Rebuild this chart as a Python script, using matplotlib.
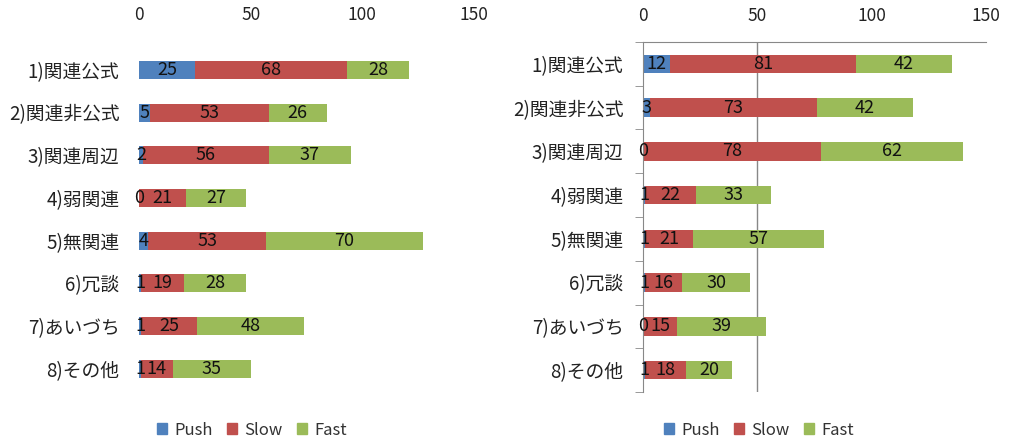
import matplotlib
matplotlib.use("Agg")
import matplotlib.pyplot as plt
import numpy as np
from matplotlib.patches import Patch

plt.rcParams['font.family'] = ['Noto Sans CJK JP', 'DejaVu Sans']

categories = ["1)関連公式", "2)関連非公式", "3)関連周辺", "4)弱関連",
              "5)無関連", "6)冗談", "7)あいづち", "8)その他"]
series_names = ["Push", "Slow", "Fast"]
colors = ["#4F81BD", "#C0504D", "#9BBB59"]

left_push = [25, 5, 2, 0, 4, 1, 1, 1]
left_slow = [68, 53, 56, 21, 53, 19, 25, 14]
left_fast = [28, 26, 37, 27, 70, 28, 48, 35]

right_push = [12, 3, 0, 1, 1, 1, 0, 1]
right_slow = [81, 73, 78, 22, 21, 16, 15, 18]
right_fast = [42, 42, 62, 33, 57, 30, 39, 20]

xticks = [0, 50, 100, 150]

W, H = 1019, 440
fig = plt.figure(figsize=(W / 100, H / 100), dpi=100)


def draw(ax, push, slow, fast, show_axes, label_pad):
    y = np.arange(len(categories))
    left = np.zeros(len(categories))
    for vals, c in zip([push, slow, fast], colors):
        bars = ax.barh(y, vals, left=left, height=0.42, color=c)
        ax.bar_label(bars, labels=[str(v) for v in vals], label_type='center',
                     fontsize=13, color='#111111')
        left = left + np.array(vals)
    ax.set_xlim(0, 150)
    ax.set_ylim(len(categories) - 0.5, -0.5)
    ax.set_yticks(y)
    ax.set_yticklabels(categories, fontsize=13.5, color='#222222')
    ax.xaxis.tick_top()
    ax.set_xticks(xticks)
    ax.set_xticklabels([str(t) for t in xticks], fontsize=12.5, color='#222222')
    ax.tick_params(axis='x', length=0, pad=label_pad)
    ax.tick_params(axis='y', which='major', length=0, pad=14)
    for s in ['right', 'bottom']:
        ax.spines[s].set_visible(False)
    if show_axes:
        ax.spines['top'].set_color('#888888')
        ax.spines['left'].set_color('#888888')
        ax.set_yticks(np.arange(-0.5, len(categories)), minor=True)
        ax.tick_params(axis='y', which='minor', length=6, color='#888888')
        ax.axvline(50, color='#888888', lw=1, zorder=0)
    else:
        ax.spines['top'].set_visible(False)
        ax.spines['left'].set_visible(False)


ax1 = fig.add_axes([139 / W, 1 - 390 / H, 335 / W, (390 - 48.6) / H])
draw(ax1, left_push, left_slow, left_fast, False, 18)

ax2 = fig.add_axes([643 / W, 1 - 392 / H, 343 / W, (392 - 42) / H])
draw(ax2, right_push, right_slow, right_fast, True, 12)

handles = [Patch(color=c, label=n) for c, n in zip(colors, series_names)]
for cx in [252 / W, 759 / W]:
    fig.legend(handles=handles, loc='center', bbox_to_anchor=(cx, 1 - 430 / H),
               ncol=3, frameon=False, fontsize=12, handlelength=0.6,
               handleheight=0.6, columnspacing=0.9, handletextpad=0.4,
               labelcolor='#333333')

fig.savefig("out.png", dpi=100)
